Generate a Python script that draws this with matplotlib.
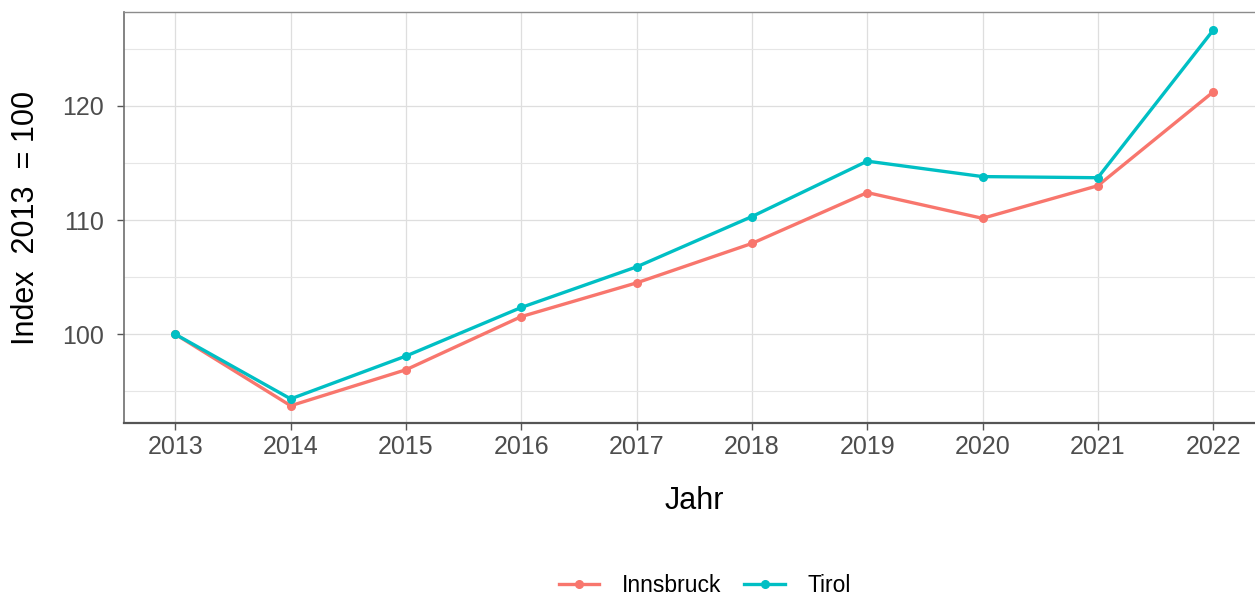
import matplotlib
matplotlib.use("Agg")
import matplotlib.pyplot as plt
from matplotlib.ticker import MultipleLocator
from matplotlib.lines import Line2D

plt.rcParams['font.family'] = ['Liberation Sans', 'DejaVu Sans']

years = [2013, 2014, 2015, 2016, 2017, 2018, 2019, 2020, 2021, 2022]
innsbruck = [100.0, 93.75, 96.9, 101.55, 104.5, 107.95, 112.4, 110.15, 113.0, 121.2]
tirol = [100.0, 94.35, 98.1, 102.35, 105.9, 110.3, 115.15, 113.8, 113.7, 126.6]
series_names = ["Innsbruck", "Tirol"]
colors = ["#F8766D", "#00BFC4"]

W, H = 1255, 597
fig = plt.figure(figsize=(W / 100, H / 100), dpi=100)
left, right, top, bottom = 123.5, 1265, 12, 423
ax = fig.add_axes([left / W, 1 - bottom / H, (right - left) / W, (bottom - top) / H])

for vals, name, c in zip([innsbruck, tirol], series_names, colors):
    ax.plot(years, vals, color=c, lw=2.4, marker='o', ms=5.5, label=name,
            solid_capstyle='butt', zorder=3)

ax.set_xlim(2012.55, 2022.45)
ax.set_ylim(92.24, 128.2)
ax.set_xticks(years)
ax.set_xticklabels([str(y) for y in years])
ax.yaxis.set_major_locator(MultipleLocator(10))
ax.yaxis.set_minor_locator(MultipleLocator(5))

ax.grid(True, which='major', color='#DEDEDE', lw=0.9)
ax.grid(True, which='minor', axis='y', color='#E6E6E6', lw=0.8)
ax.set_axisbelow(True)

for side in ['top', 'right']:
    ax.spines[side].set_color('#8C8C8C')
    ax.spines[side].set_linewidth(1.0)
ax.spines['left'].set_color('#6E6E6E')
ax.spines['left'].set_linewidth(1.2)
ax.spines['bottom'].set_color('#555555')
ax.spines['bottom'].set_linewidth(1.6)

ax.tick_params(axis='both', which='major', length=5, width=1, color='#555555',
               labelsize=18, labelcolor='#4D4D4D')
ax.tick_params(axis='x', which='major', pad=4)
ax.tick_params(axis='y', which='major', pad=9)
ax.tick_params(axis='y', which='minor', length=0)

ax.set_xlabel("Jahr", fontsize=22, labelpad=19)
ax.set_ylabel("Index  2013  = 100", fontsize=22, labelpad=15)

handles = [Line2D([0], [0], color=c, lw=2.4, marker='o', ms=5.5) for c in colors]
fig.legend(handles, series_names, loc='center', bbox_to_anchor=(705 / W, 1 - 586 / H),
           ncol=2, frameon=False, fontsize=16.5, handlelength=1.75, handletextpad=1.0,
           columnspacing=1.0)

fig.savefig("out.png", dpi=100, facecolor='white')
